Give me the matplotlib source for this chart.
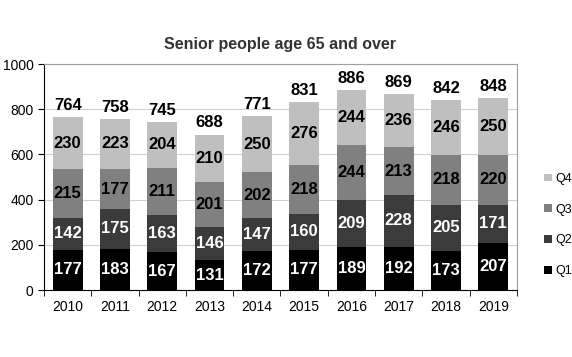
import matplotlib
matplotlib.use("Agg")
import matplotlib.pyplot as plt
import numpy as np

years = ["2010", "2011", "2012", "2013", "2014", "2015", "2016", "2017", "2018", "2019"]
q1 = [177, 183, 167, 131, 172, 177, 189, 192, 173, 207]
q2 = [142, 175, 163, 146, 147, 160, 209, 228, 205, 171]
q3 = [215, 177, 211, 201, 202, 218, 244, 213, 218, 220]
q4 = [230, 223, 204, 210, 250, 276, 244, 236, 246, 250]
totals = [764, 758, 745, 688, 771, 831, 886, 869, 842, 848]

plt.rcParams['font.family'] = ['Liberation Sans', 'DejaVu Sans']

fig = plt.figure(figsize=(5.72, 3.57), dpi=100)
ax = fig.add_axes([44/572, 1-290/357, (517-44)/572, (290-64)/357])

x = np.arange(len(years))
w = 0.63
series = [("Q1", q1, "#000000", "white"), ("Q2", q2, "#3b3b3b", "white"),
          ("Q3", q3, "#808080", "black"), ("Q4", q4, "#bfbfbf", "black")]
bottom = np.zeros(len(years))
handles = []
for name, vals, col, tcol in series:
    vals = np.array(vals)
    b = ax.bar(x, vals, w, bottom=bottom, color=col, label=name, zorder=2)
    handles.append(b)
    for xi, v, bt in zip(x, vals, bottom):
        ax.text(xi, bt + v/2, str(v), ha='center', va='center', color=tcol,
                fontsize=12, fontweight='bold', zorder=4)
    bottom = bottom + vals

for xi, t in zip(x, totals):
    ax.text(xi, t + 18, str(t), ha='center', va='bottom', color='black',
            fontsize=12, fontweight='bold', zorder=4)

ax.set_ylim(0, 1000)
ax.set_xlim(-0.5, len(years) - 0.5)
ax.set_yticks(range(0, 1001, 200))
ax.yaxis.grid(True, color='#d0d0d0', linewidth=0.8, zorder=1)
ax.set_axisbelow(True)
ax.set_xticks(x)
ax.set_xticklabels(years, fontsize=10)
ax.set_xticks(np.arange(-0.5, len(years)), minor=True)
ax.tick_params(axis='x', which='major', length=0, pad=7)
ax.tick_params(axis='x', which='minor', length=4, direction='out', color='black')
ax.tick_params(axis='y', labelsize=10, length=4, direction='out')
for s in ['top', 'right']:
    ax.spines[s].set_color('#a0a0a0')
    ax.spines[s].set_linewidth(0.8)
ax.spines['left'].set_color('black')
ax.spines['bottom'].set_color('black')

fig.text((44+517)/2/572, 1-45/357, "Senior people age 65 and over", ha='center',
         va='center', fontsize=11.5, fontweight='bold', color='#333333')

leg = fig.legend(handles[::-1], ["Q4", "Q3", "Q2", "Q1"], loc='center left',
                 bbox_to_anchor=(533/572, 1-225/357), frameon=False, fontsize=9,
                 handlelength=0.6, handleheight=0.6, handletextpad=0.3,
                 labelspacing=1.5)

fig.savefig("out.png", dpi=100)
